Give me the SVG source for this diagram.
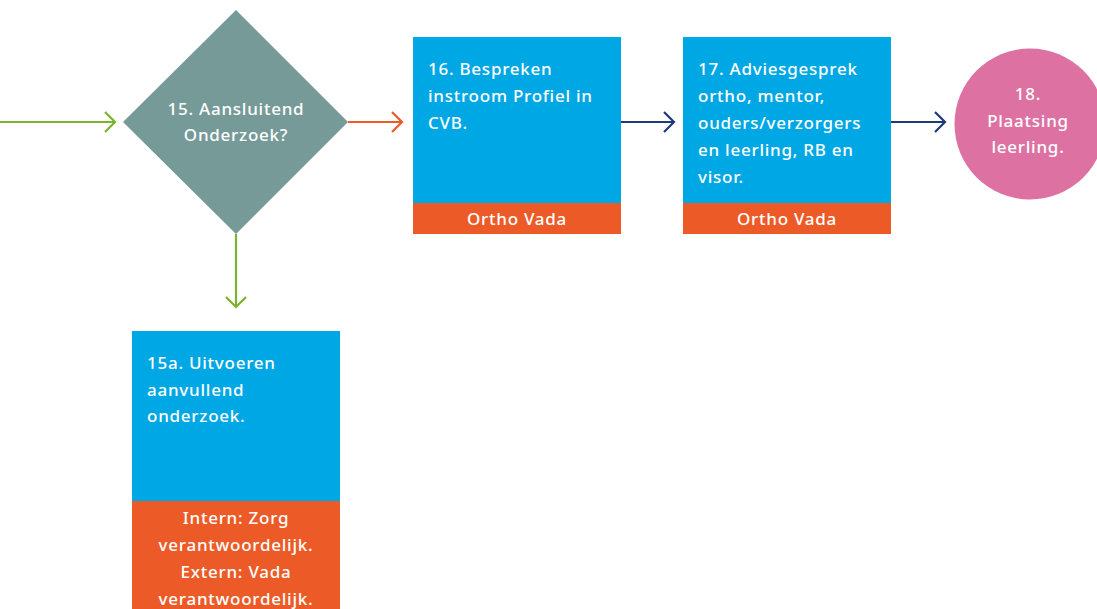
<svg xmlns="http://www.w3.org/2000/svg" width="1097" height="609" viewBox="0 0 1097 609">
<style>
text{font-family:"Noto Sans","Liberation Sans",sans-serif;font-size:17px;font-weight:500;fill:#fff;letter-spacing:0.75px}
.c{text-anchor:middle}
.blue{fill:#00A7E5}
.org{fill:#EC5B27}
.ln{fill:none;stroke-width:2.2}
</style>
<defs>
<marker id="ag" markerWidth="14" markerHeight="24" refX="12" refY="12" orient="auto" markerUnits="userSpaceOnUse"><path d="M2,2 L12,12 L2,22" fill="none" stroke="#7AB32E" stroke-width="2.2"/></marker>
<marker id="ao" markerWidth="14" markerHeight="24" refX="12" refY="12" orient="auto" markerUnits="userSpaceOnUse"><path d="M2,2 L12,12 L2,22" fill="none" stroke="#EC5B27" stroke-width="2.2"/></marker>
<marker id="an" markerWidth="14" markerHeight="24" refX="12" refY="12" orient="auto" markerUnits="userSpaceOnUse"><path d="M2,2 L12,12 L2,22" fill="none" stroke="#1E3A7B" stroke-width="2.2"/></marker>
</defs>
<rect width="1097" height="609" fill="#fff"/>
<g id="connectors">
<line class="ln" x1="0" y1="122" x2="115" y2="122" stroke="#7AB32E" marker-end="url(#ag)"/>
<line class="ln" x1="348" y1="122" x2="402" y2="122" stroke="#EC5B27" marker-end="url(#ao)"/>
<line class="ln" x1="236" y1="234" x2="236" y2="307" stroke="#7AB32E" marker-end="url(#ag)"/>
<line class="ln" x1="621" y1="122" x2="674" y2="122" stroke="#1E3A7B" marker-end="url(#an)"/>
<line class="ln" x1="891" y1="122" x2="945" y2="122" stroke="#1E3A7B" marker-end="url(#an)"/>
</g>
<g id="n15">
<polygon points="236,10 348,122 236,234 123,122" fill="#769A98"/>
<text class="c" x="236" y="115">15. Aansluitend</text>
<text class="c" x="236" y="141">Onderzoek?</text>
</g>
<g id="n16">
<rect class="blue" x="413" y="37" width="208" height="166"/>
<rect class="org" x="413" y="203" width="208" height="31"/>
<text x="428" y="75">16. Bespreken</text>
<text x="428" y="102">instroom Profiel in</text>
<text x="428" y="129">CVB.</text>
<text class="c" x="517" y="225">Ortho Vada</text>
</g>
<g id="n17">
<rect class="blue" x="683" y="37" width="208" height="166"/>
<rect class="org" x="683" y="203" width="208" height="31"/>
<text x="698" y="75">17. Adviesgesprek</text>
<text x="698" y="102">ortho, mentor,</text>
<text x="698" y="129">ouders/verzorgers</text>
<text x="698" y="156">en leerling, RB en</text>
<text x="698" y="183">visor.</text>
<text class="c" x="787" y="225">Ortho Vada</text>
</g>
<g id="n18">
<circle cx="1030" cy="124" r="75.5" fill="#DD72A2"/>
<text class="c" x="1028" y="100">18.</text>
<text class="c" x="1028" y="127">Plaatsing</text>
<text class="c" x="1028" y="153">leerling.</text>
</g>
<g id="n15a">
<rect class="blue" x="132" y="331" width="208" height="170"/>
<rect class="org" x="132" y="501" width="208" height="108"/>
<text x="147" y="369">15a. Uitvoeren</text>
<text x="147" y="396">aanvullend</text>
<text x="147" y="422">onderzoek.</text>
<text class="c" x="236" y="524">Intern: Zorg</text>
<text class="c" x="236" y="551">verantwoordelijk.</text>
<text class="c" x="236" y="578">Extern: Vada</text>
<text class="c" x="236" y="605">verantwoordelijk.</text>
</g>
</svg>
